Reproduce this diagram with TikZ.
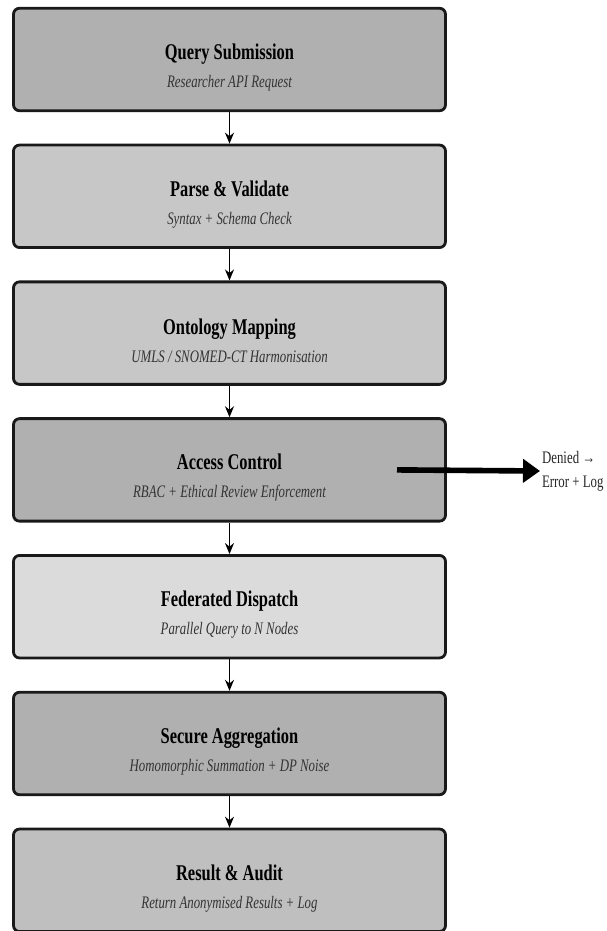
\documentclass[tikz,border=0pt]{standalone}
\usepackage{fontspec}
\setmainfont{Liberation Serif}[FakeStretch=0.73]
\usepackage{tikz}
\usetikzlibrary{arrows.meta, positioning}

\begin{document}
\begin{tikzpicture}[
    stage/.style={
      draw=black!90,
      line width=1.6pt,
      rounded corners=1.2mm,
      align=center,
      minimum width=8.64cm,
      minimum height=2.05cm,
      font=\fontsize{10}{16}\selectfont
    },
    flow/.style={-{Stealth[length=2.2mm,width=1.8mm]}, line width=0.85pt},
    deny/.style={-{Triangle[length=0.34cm,width=0.46cm]}, line width=3.2pt}
  ]
    \useasboundingbox (0,0) rectangle (12.12,-18.62);
    \node[stage, fill=black!31] (qry) at (4.59,-1.19) {{\fontsize{12.8}{16}\selectfont\bfseries\rule{0pt}{18pt}Query Submission}\\\textit{\color{black!80}Researcher API Request}};
    \node[stage, fill=black!22] (prs) at (4.59,-3.926) {{\fontsize{12.8}{16}\selectfont\bfseries\rule{0pt}{18pt}Parse \& Validate}\\\textit{\color{black!80}Syntax + Schema Check}};
    \node[stage, fill=black!22] (ont) at (4.59,-6.662) {{\fontsize{12.8}{16}\selectfont\bfseries\rule{0pt}{18pt}Ontology Mapping}\\\textit{\color{black!80}UMLS / SNOMED-CT Harmonisation}};
    \node[stage, fill=black!31] (acc) at (4.59,-9.398) {{\fontsize{12.8}{16}\selectfont\bfseries\rule{0pt}{18pt}Access Control}\\\textit{\color{black!80}RBAC + Ethical Review Enforcement}};
    \node[stage, fill=black!14] (fed) at (4.59,-12.134) {{\fontsize{12.8}{16}\selectfont\bfseries\rule{0pt}{18pt}Federated Dispatch}\\\textit{\color{black!80}Parallel Query to N Nodes}};
    \node[stage, fill=black!31] (agg) at (4.59,-14.87) {{\fontsize{12.8}{16}\selectfont\bfseries\rule{0pt}{18pt}Secure Aggregation}\\\textit{\color{black!80}Homomorphic Summation + DP Noise}};
    \node[stage, fill=black!25] (res) at (4.59,-17.606) {{\fontsize{12.8}{16}\selectfont\bfseries\rule{0pt}{18pt}Result \& Audit}\\\textit{\color{black!80}Return Anonymised Results + Log}};

    \draw[flow] (qry) -- (prs);
    \draw[flow] (prs) -- (ont);
    \draw[flow] (ont) -- (acc);
    \draw[flow] (acc) -- (fed);
    \draw[flow] (fed) -- (agg);
    \draw[flow] (agg) -- (res);

    % denied branch
    \coordinate (gate) at (7.94,-9.398);
    \node[anchor=west, align=left, inner sep=1pt, font=\fontsize{10}{13.5}\selectfont, text=black!85] (err) at (10.8,-9.42) {Denied →\\Error + Log};
    \draw[deny] (gate) -- (err.west);
  \end{tikzpicture}
\end{document}
